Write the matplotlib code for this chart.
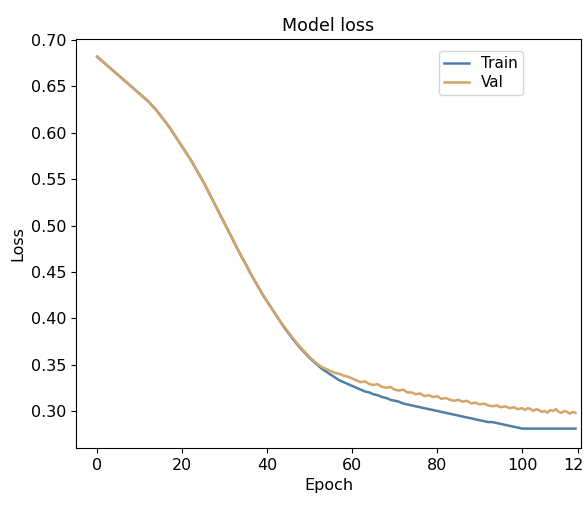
import numpy as np
import matplotlib
matplotlib.use("Agg")
import matplotlib.pyplot as plt

plt.rcParams['font.family'] = ['DejaVu Sans']

epochs = list(range(120))

train_loss = [
    0.682, 0.678, 0.674, 0.670, 0.666, 0.662, 0.658, 0.654, 0.650, 0.646,
    0.642, 0.638, 0.634, 0.629, 0.624, 0.618, 0.612, 0.606, 0.599, 0.592,
    0.585, 0.578, 0.571, 0.563, 0.555, 0.547, 0.538, 0.529, 0.520, 0.511,
    0.502, 0.493, 0.484, 0.475, 0.466, 0.458, 0.449, 0.441, 0.433, 0.425,
    0.418, 0.411, 0.404, 0.397, 0.390, 0.384, 0.378, 0.372, 0.367, 0.362,
    0.357, 0.353, 0.349, 0.345, 0.342, 0.339, 0.336, 0.333, 0.331, 0.329,
    0.327, 0.325, 0.323, 0.321, 0.320, 0.318, 0.317, 0.315, 0.314, 0.312,
    0.311, 0.310, 0.308, 0.307, 0.306, 0.305, 0.304, 0.303, 0.302, 0.301,
    0.300, 0.299, 0.298, 0.297, 0.296, 0.295, 0.294, 0.293, 0.292, 0.291,
    0.290, 0.289, 0.288, 0.288, 0.287, 0.286, 0.285, 0.284, 0.283, 0.282,
    0.281, 0.281, 0.281, 0.281, 0.281, 0.281, 0.281, 0.281, 0.281, 0.281,
    0.281, 0.281, 0.281, 0.281, 0.281, 0.281, 0.281, 0.281, 0.281, 0.281,
]

val_loss = [
    0.682, 0.678, 0.674, 0.670, 0.666, 0.662, 0.658, 0.654, 0.650, 0.646,
    0.642, 0.638, 0.634, 0.629, 0.624, 0.618, 0.612, 0.606, 0.599, 0.592,
    0.585, 0.578, 0.571, 0.563, 0.555, 0.547, 0.538, 0.529, 0.520, 0.511,
    0.502, 0.493, 0.484, 0.475, 0.466, 0.458, 0.449, 0.441, 0.433, 0.425,
    0.418, 0.411, 0.404, 0.397, 0.391, 0.385, 0.379, 0.373, 0.368, 0.363,
    0.358, 0.354, 0.350, 0.347, 0.345, 0.343, 0.341, 0.340, 0.338, 0.337,
    0.335, 0.333, 0.331, 0.332, 0.329, 0.328, 0.329, 0.326, 0.325, 0.326,
    0.323, 0.322, 0.323, 0.320, 0.320, 0.318, 0.319, 0.316, 0.317, 0.315,
    0.316, 0.313, 0.314, 0.312, 0.311, 0.312, 0.310, 0.311, 0.308, 0.309,
    0.307, 0.308, 0.306, 0.305, 0.306, 0.304, 0.305, 0.303, 0.304, 0.302,
    0.303, 0.301, 0.303, 0.302, 0.300, 0.302, 0.301, 0.299, 0.300, 0.298,
    0.301, 0.300, 0.302, 0.299, 0.298, 0.300, 0.299, 0.297, 0.299, 0.298,
]

x_ticks = [0, 20, 40, 60, 80, 100, 120]
y_ticks = [0.30, 0.35, 0.40, 0.45, 0.50, 0.55, 0.60, 0.65, 0.70]


# the screenshot squeezes the x axis past epoch 100
def fwd(x):
    x = np.asarray(x, dtype=float)
    return np.where(x <= 100, x, 100 + (x - 100) * 0.66)


def inv(y):
    y = np.asarray(y, dtype=float)
    return np.where(y <= 100, y, 100 + (y - 100) / 0.66)


fig = plt.figure(figsize=(5.84, 5.08), dpi=100)
ax = fig.add_axes([0.130, 0.118, 0.865, 0.805])
ax.set_xscale('function', functions=(fwd, inv))

ax.plot(epochs, train_loss, color='#4f7fa6', lw=1.8, label='Train')
ax.plot(epochs, val_loss, color='#d4a468', lw=1.8, label='Val')

ax.set_xticks(x_ticks)
ax.set_yticks(y_ticks)
ax.set_xlim(-5, 121)
ax.set_ylim(0.260, 0.701)
ax.tick_params(labelsize=11.5)

ax.set_title('Model loss', fontsize=12.5)
ax.set_xlabel('Epoch', fontsize=11.5)
ax.set_ylabel('Loss', fontsize=11.5)
ax.legend(loc='upper right', fontsize=11, bbox_to_anchor=(0.90, 0.99),
          handlelength=1.6, labelspacing=0.25, borderpad=0.35)

fig.savefig('out.png', dpi=100)
